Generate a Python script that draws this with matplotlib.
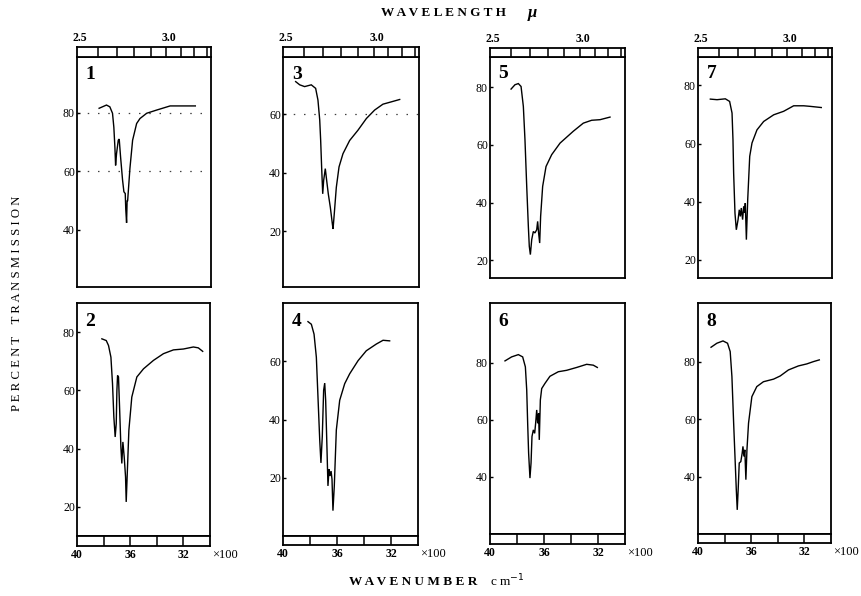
import matplotlib
matplotlib.use("Agg")
import matplotlib.pyplot as plt
import matplotlib.transforms as mtransforms
import numpy as np

plt.rcParams['font.family'] = ['Liberation Serif', 'DejaVu Serif']

# ---------------------------------------------------------------
# Spectra: wavenumber (cm^-1) and percent transmission, samples 1-8
# ---------------------------------------------------------------
wn_1 = [3835, 3780, 3755, 3735, 3725, 3717, 3712, 3705, 3692, 3685, 3675, 3660,
        3650, 3640, 3636, 3630, 3626, 3622, 3605, 3585, 3555, 3530, 3480, 3405,
        3305, 3230, 3117]
tr_1 = [81.5, 82.6, 82.0, 79.8, 75.0, 68.0, 62.0, 66.0, 70.6, 71.0, 65.0, 57.0,
        53.0, 52.4, 47.0, 42.4, 50.0, 50.0, 61.0, 70.6, 76.3, 78.0, 79.8, 80.9,
        82.3, 82.3, 82.3]

wn_2 = [3813, 3780, 3763, 3745, 3733, 3723, 3713, 3705, 3700, 3695, 3688, 3680,
        3670, 3663, 3655, 3645, 3635, 3630, 3623, 3610, 3588, 3550, 3500, 3425,
        3350, 3275, 3200, 3125, 3088, 3055]
tr_2 = [77.7, 77.1, 75.4, 71.4, 62.3, 50.9, 44.0, 48.6, 60.0, 65.1, 64.6, 54.3,
        40.6, 34.9, 42.3, 37.1, 30.3, 21.7, 30.3, 46.3, 57.7, 64.6, 67.4, 70.3,
        72.6, 73.9, 74.2, 74.9, 74.6, 73.4]

wn_3 = [3907, 3877, 3841, 3792, 3760, 3743, 3730, 3723, 3716, 3708, 3701, 3689,
        3679, 3667, 3652, 3637, 3632, 3623, 3608, 3588, 3559, 3510, 3449, 3387,
        3326, 3265, 3203, 3142]
tr_3 = [71.1, 70.0, 69.4, 70.0, 68.8, 64.8, 58.0, 51.0, 42.0, 32.8, 37.4, 41.4,
        37.4, 32.8, 28.2, 22.5, 20.8, 26.0, 35.0, 42.0, 46.5, 51.0, 54.5, 58.5,
        61.4, 63.4, 64.2, 65.0]

wn_4 = [3815, 3790, 3770, 3753, 3741, 3728, 3719, 3709, 3699, 3691, 3684, 3674,
        3667, 3659, 3652, 3644, 3637, 3630, 3620, 3605, 3580, 3543, 3506, 3444,
        3383, 3309, 3259, 3210]
tr_4 = [73.6, 72.7, 69.3, 61.4, 47.8, 33.0, 25.1, 34.2, 50.0, 52.5, 46.6, 29.6,
        17.2, 22.9, 20.6, 22.3, 19.5, 8.7, 17.2, 36.4, 46.6, 52.3, 55.7, 60.2,
        63.6, 65.9, 67.2, 67.0]

wn_5 = [3844, 3815, 3790, 3770, 3753, 3741, 3728, 3716, 3709, 3701, 3691, 3679,
        3667, 3654, 3647, 3640, 3632, 3625, 3610, 3585, 3543, 3481, 3383, 3309,
        3247, 3185, 3111]
tr_5 = [79.3, 80.8, 81.2, 80.2, 73.3, 61.8, 45.6, 31.8, 24.9, 22.0, 27.2, 30.0,
        29.5, 30.6, 33.5, 29.5, 26.0, 35.2, 45.6, 52.5, 56.6, 60.6, 64.7, 67.5,
        68.5, 68.7, 69.6]

wn_6 = [3889, 3840, 3790, 3758, 3738, 3728, 3721, 3714, 3704, 3696, 3689, 3679,
        3669, 3662, 3654, 3647, 3640, 3635, 3627, 3617, 3593, 3556, 3494, 3432,
        3358, 3284, 3235, 3205]
tr_6 = [80.7, 82.1, 82.9, 82.1, 78.6, 70.5, 58.8, 48.4, 39.6, 44.9, 54.2, 56.5,
        55.3, 58.8, 63.5, 58.8, 62.3, 53.0, 67.0, 71.0, 72.8, 75.3, 76.9, 77.4,
        78.4, 79.5, 79.2, 78.4]

wn_7 = [3908, 3858, 3796, 3764, 3746, 3739, 3734, 3724, 3714, 3701, 3692, 3684,
        3677, 3667, 3659, 3652, 3647, 3639, 3629, 3614, 3597, 3560, 3510, 3435,
        3361, 3286, 3211, 3162, 3080]
tr_7 = [75.3, 75.1, 75.4, 74.5, 70.5, 61.3, 49.8, 36.0, 30.3, 33.8, 37.2, 34.9,
        37.8, 33.8, 38.4, 36.1, 39.5, 26.9, 40.7, 55.6, 60.2, 64.7, 67.6, 69.9,
        71.1, 73.0, 73.0, 72.8, 72.4]

wn_8 = [3902, 3858, 3812, 3778, 3758, 3745, 3732, 3722, 3712, 3705, 3698, 3690,
        3678, 3668, 3662, 3655, 3648, 3640, 3632, 3620, 3595, 3558, 3508, 3432,
        3382, 3320, 3245, 3182, 3132, 3088]
tr_8 = [85.0, 86.4, 87.2, 86.4, 83.5, 74.8, 58.6, 47.0, 35.4, 28.4, 35.4, 44.7,
        45.2, 48.1, 50.5, 47.0, 49.3, 38.9, 49.3, 58.6, 67.8, 71.3, 73.0, 73.9,
        75.0, 77.1, 78.5, 79.2, 80.0, 80.6]

# Transmission tick values for each panel
yticks_1 = [40, 60, 80]
yticks_2 = [20, 40, 60, 80]
yticks_3 = [20, 40, 60]
yticks_4 = [20, 40, 60]
yticks_5 = [20, 40, 60, 80]
yticks_6 = [40, 60, 80]
yticks_7 = [20, 40, 60, 80]
yticks_8 = [40, 60, 80]

# Chart-paper guide levels that show on some panels
guides_1 = [60, 80]
guides_3 = [60]

# Wavenumber scale (bottom row) and wavelength scale (top row)
wn_marks = [3800, 3600, 3400, 3200]
wn_label_pos = [4000, 3600, 3200]
wn_label_txt = ['40', '36', '32']
wl_marks = [2.6, 2.7, 2.8, 2.9, 3.0, 3.1, 3.2, 3.3]
wl_label_pos = [2.5, 3.0]
wl_label_txt = ['2.5', '3.0']

# ---------------------------------------------------------------
W, H = 862, 596
fig = plt.figure(figsize=(W / 100, H / 100), dpi=100)
fig.patch.set_facecolor('white')

SPINE_LW = 1.3
LINE_LW = 1.0


def px_axes(x0, y0, x1, y1):
    """Axes placed by pixel box (top-left origin)."""
    return fig.add_axes([x0 / W, 1 - y1 / H, (x1 - x0) / W, (y1 - y0) / H])


def style_frame(ax):
    for s in ax.spines.values():
        s.set_linewidth(SPINE_LW)
        s.set_color('black')


# panel: (number, wn, tr, yticks, ylim, plot box px, strip side, strip px height, guides)
panels = [
    ('1', wn_1, tr_1, yticks_1, (20.5, 99.0), (77, 57, 211, 287), 'top', 10, guides_1),
    ('3', wn_3, tr_3, yticks_3, (1.0, 79.5), (283, 57, 419, 287), 'top', 10, guides_3),
    ('5', wn_5, tr_5, yticks_5, (13.9, 90.4), (490, 57, 625, 278), 'top', 9, []),
    ('7', wn_7, tr_7, yticks_7, (13.7, 89.8), (698, 57, 832, 278), 'top', 9, []),
    ('2', wn_2, tr_2, yticks_2, (10.0, 90.0), (77, 303, 210, 536), 'bottom', 10, []),
    ('4', wn_4, tr_4, yticks_4, (0.0, 80.0), (283, 303, 418, 536), 'bottom', 9, []),
    ('6', wn_6, tr_6, yticks_6, (20.0, 101.0), (490, 303, 625, 534), 'bottom', 10, []),
    ('8', wn_8, tr_8, yticks_8, (20.0, 100.4), (698, 303, 831, 534), 'bottom', 9, []),
]

for num, wn, tr, yt, ylim, box, side, sh, guides in panels:
    x0, y0, x1, y1 = box
    ax = px_axes(x0, y0, x1, y1)
    ax.plot(wn, tr, color='black', lw=LINE_LW, solid_joinstyle='miter')
    for g in guides:
        ax.axhline(g, color='black', lw=0.9, ls=(0, (1.2, 7)), alpha=0.75)
    ax.set_xlim(4000, 3000)
    ax.set_ylim(*ylim)
    ax.set_xticks([])
    ax.set_yticks(yt)
    ax.set_yticklabels([str(v) for v in yt])
    ax.tick_params(axis='y', direction='in', length=2.5, width=1.0,
                   labelsize=8.5, pad=1.5)
    style_frame(ax)
    ax.text(0.10, 0.925 if side == 'top' else 0.92, num, transform=ax.transAxes,
            ha='center', va='center', fontsize=14, fontweight='bold')

    # scale strip
    if side == 'top':
        sax = px_axes(x0, y0 - sh, x1, y0)
        marks = [1e4 / w for w in wl_marks]
    else:
        sax = px_axes(x0, y1, x1, y1 + sh)
        marks = wn_marks
    sax.set_xlim(4000, 3000)
    sax.set_ylim(0, 1)
    sax.set_xticks([])
    sax.set_yticks([])
    style_frame(sax)
    sax.vlines(marks, 0, 1, color='black', lw=1.1)

    if side == 'top':
        tr_lbl = mtransforms.offset_copy(sax.transData, fig=fig, x=2, y=2, units='points')
        for w, t in zip(wl_label_pos, wl_label_txt):
            sax.text(1e4 / w, 1.0, t, transform=tr_lbl, ha='center', va='bottom',
                     fontsize=8.5, fontweight='bold', clip_on=False)
    else:
        tr_lbl = mtransforms.offset_copy(sax.transData, fig=fig, y=-2, units='points')
        for p, t in zip(wn_label_pos, wn_label_txt):
            sax.text(p, 0.0, t, transform=tr_lbl, ha='center', va='top',
                     fontsize=8.5, fontweight='bold', clip_on=False)
        tr_x = mtransforms.offset_copy(sax.transAxes, fig=fig, x=1.2, y=-2, units='points')
        sax.text(1.0, 0.0, '×100', transform=tr_x, ha='left', va='top',
                 fontsize=9, clip_on=False)

# Overall axis titles
fig.text(444 / W, 1 - 13 / H, 'W A V E L E N G T H', ha='center', va='center',
         fontsize=9.5, fontweight='bold')
fig.text(532 / W, 1 - 13 / H, 'μ', ha='center', va='center',
         fontsize=12, fontweight='bold', style='italic')
fig.text(17 / W, 1 - 303 / H, 'P E R C E N T    T R A N S M I S S I O N',
         rotation=90, ha='center', va='center', fontsize=9.2)
fig.text(413 / W, 1 - 582 / H, 'W A V E N U M B E R', ha='center', va='center',
         fontsize=9.5, fontweight='bold')
fig.text(490 / W, 1 - 581 / H, 'c m$^{-1}$', ha='left', va='center', fontsize=9.5)

fig.savefig('out.png', dpi=100, facecolor='white')
